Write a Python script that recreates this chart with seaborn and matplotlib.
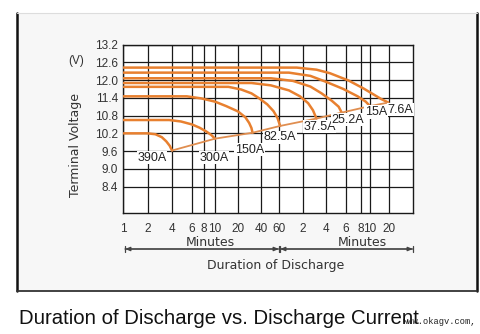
import numpy as np
import pandas as pd
import matplotlib
matplotlib.use("Agg")
import matplotlib.pyplot as plt
from matplotlib.patches import Rectangle, FancyArrowPatch
from matplotlib.lines import Line2D
from matplotlib.ticker import FixedLocator, FixedFormatter, NullLocator
import seaborn as sns

# ---------------- data ----------------
currents = ["390A", "300A", "150A", "82.5A", "37.5A", "25.2A", "15A", "7.6A"]

c390_min = [1, 2, 2.5, 3.0, 3.4, 3.75, 4]
c390_v = [10.2, 10.2, 10.17, 10.07, 9.93, 9.78, 9.62]
c300_min = [1, 3.7, 4.8, 6, 7.2, 8.4, 9.3, 10]
c300_v = [10.65, 10.65, 10.6, 10.5, 10.39, 10.26, 10.14, 10.02]
c150_min = [1, 5.4, 7.5, 10, 14, 20, 25, 28, 30, 31]
c150_v = [11.45, 11.45, 11.38, 11.27, 11.12, 10.94, 10.74, 10.55, 10.38, 10.22]
c82_min = [1, 15, 22, 30, 38, 46, 53, 58, 62]
c82_v = [11.77, 11.77, 11.68, 11.55, 11.38, 11.18, 10.95, 10.72, 10.45]
c37_min = [1, 30, 50, 80, 110, 140, 162, 180]
c37_v = [11.9, 11.9, 11.82, 11.65, 11.45, 11.22, 10.98, 10.7]
c25_min = [1, 50, 90, 150, 210, 270, 310, 330]
c25_v = [12.06, 12.06, 11.97, 11.78, 11.55, 11.3, 11.1, 10.9]
c15_min = [1, 80, 150, 240, 340, 450, 540, 600]
c15_v = [12.25, 12.25, 12.14, 11.94, 11.7, 11.45, 11.27, 11.12]
c7_min = [1, 100, 180, 260, 380, 508, 700, 900, 1170]
c7_v = [12.42, 12.42, 12.35, 12.23, 11.98, 11.72, 11.5, 11.36, 11.24]

curve_minutes = [c390_min, c300_min, c150_min, c82_min, c37_min, c25_min, c15_min, c7_min]
curve_volts = [c390_v, c300_v, c150_v, c82_v, c37_v, c25_v, c15_v, c7_v]

x_tick_minutes = [1, 2, 4, 6, 8, 10, 20, 40, 60, 120, 240, 360, 480, 600, 1200]
x_tick_labels = ["1", "2", "4", "6", "8", "10", "20", "40", "60", "2", "4", "6", "8", "10", "20"]
y_ticks = [8.4, 9.0, 9.6, 10.2, 10.8, 11.4, 12.0, 12.6, 13.2]
y_tick_labels = ["8.4", "9.0", "9.6", "10.2", "10.8", "11.4", "12.0", "12.6", "13.2"]

# ---------------- layout / style ----------------
W, H = 480, 334
# drawing spacing of the hand-made log-like time axis (relative units)
AXIS_SPACING = [0, 24, 48.5, 68.5, 80.5, 91.5, 114.5, 137.5, 155.5, 179.5,
                202.5, 222.5, 237.5, 246.5, 265.5]
X_MAX = 2400
AXIS_END = 289.5
LABEL_OFFSETS = [(-20, -7), (-1, -19), (-3, -17), (0, -11.5), (3, -8),
                 (6, -7), (6, -6), (12, -7)]
ORANGE = "#E8802F"

_logs = np.array([-6.0] + list(np.log10(x_tick_minutes)) + [np.log10(X_MAX), 9.0])
_pos = np.array([-6.0 * 91.5] + AXIS_SPACING
                + [AXIS_END, AXIS_END + (9.0 - np.log10(X_MAX)) * 85])


def fwd(x):
    x = np.asarray(x, dtype=float)
    return np.interp(np.log10(np.clip(x, 1e-6, None)), _logs, _pos)


def inv(p):
    p = np.asarray(p, dtype=float)
    return 10 ** np.interp(p, _pos, _logs)


sns.set_style("white")
plt.rcParams["font.family"] = ["Liberation Sans", "DejaVu Sans"]

fig = plt.figure(figsize=(W / 100, H / 100), dpi=100)
fig.patch.set_facecolor("white")


def fx(px):
    return px / W


def fy(py):
    return 1 - py / H


# outer frame (behind everything)
fig.patches.append(Rectangle((fx(17), fy(291)), fx(477) - fx(17), fy(13) - fy(291),
                             transform=fig.transFigure, facecolor="#F7F7F7",
                             edgecolor="none", zorder=-5))
for xs, ys, c, w in [([17, 17], [13, 291], "#111111", 1.8),
                     ([477, 477], [13, 291], "#111111", 1.8),
                     ([17, 477], [291, 291], "#333333", 1.3),
                     ([17, 477], [13, 13], "#DDDDDD", 0.8)]:
    fig.lines.append(Line2D([fx(v) for v in xs], [fy(v) for v in ys],
                            transform=fig.transFigure, color=c, lw=w, zorder=-4))

ax = fig.add_axes([fx(123.5), fy(213), fx(413) - fx(123.5), fy(44.5) - fy(213)])
ax.set_zorder(2)
ax.set_facecolor("white")
ax.set_xscale("function", functions=(fwd, inv))

rows = []
for name, mins, vs in zip(currents, curve_minutes, curve_volts):
    for m, v in zip(mins, vs):
        rows.append({"current": name, "minutes": m, "volts": v})
df = pd.DataFrame(rows)

for name in currents:
    sub = df[df["current"] == name]
    sns.lineplot(data=sub, x="minutes", y="volts", ax=ax, color=ORANGE, lw=1.8,
                 estimator=None, sort=False, legend=False, zorder=3)

# end-of-discharge line through the curve end points
ends = df.groupby("current", sort=False).last().reset_index()
sns.lineplot(data=ends, x="minutes", y="volts", ax=ax, color="#E08E50", lw=1.3,
             estimator=None, sort=False, legend=False, zorder=3)

for (name, row), off in zip(ends.set_index("current").iterrows(), LABEL_OFFSETS):
    ax.annotate(name, (row["minutes"], row["volts"]), xytext=off,
                textcoords="offset pixels", ha="center", va="center",
                fontsize=9, color="#222222", zorder=5,
                bbox=dict(boxstyle="square,pad=0.05", fc="white", ec="none"))

ax.set_xlim(1, X_MAX)
ax.set_ylim(7.51, 13.2)
ax.xaxis.set_major_locator(FixedLocator(x_tick_minutes))
ax.xaxis.set_major_formatter(FixedFormatter(x_tick_labels))
ax.xaxis.set_minor_locator(NullLocator())
ax.set_yticks(y_ticks)
ax.set_yticklabels(y_tick_labels)
ax.grid(True, color="#1A1A1A", lw=0.9, zorder=1)
ax.set_axisbelow(True)
ax.tick_params(axis="both", length=0, labelsize=8.5, labelcolor="#333333")
ax.tick_params(axis="y", pad=4)
ax.tick_params(axis="x", pad=7)
for s in ax.spines.values():
    s.set_visible(True)
    s.set_color("#1A1A1A")
    s.set_linewidth(1.0)
ax.set_xlabel("")
ax.set_ylabel("")

# axis texts
fig.text(fx(76), fy(61), "(V)", ha="center", va="center", fontsize=8.5, color="#333333")
fig.text(fx(75), fy(145), "Terminal Voltage", ha="center", va="center", rotation=90,
         fontsize=9, color="#333333", family=["DejaVu Sans"])
fig.text(fx(210), fy(242), "Minutes", ha="center", va="center", fontsize=9,
         color="#333333", family=["DejaVu Sans"])
fig.text(fx(362), fy(242), "Minutes", ha="center", va="center", fontsize=9,
         color="#333333", family=["DejaVu Sans"])
fig.text(fx(276), fy(265), "Duration of Discharge", ha="center", va="center",
         fontsize=9, color="#333333", family=["DejaVu Sans"])

for x0, x1 in [(125, 279), (280, 413)]:
    fig.patches.append(FancyArrowPatch(
        (fx(x0), fy(249)), (fx(x1), fy(249)), transform=fig.transFigure,
        arrowstyle="|-|,widthA=2.5,widthB=2.5", color="#444444", lw=0.9,
        shrinkA=0, shrinkB=0))
    fig.patches.append(FancyArrowPatch(
        (fx(x0), fy(249)), (fx(x1), fy(249)), transform=fig.transFigure,
        arrowstyle="<|-|>,head_length=3,head_width=1.2", color="#444444", lw=0.9,
        shrinkA=0, shrinkB=0))

fig.text(fx(19), fy(318), "Duration of Discharge vs. Discharge Current", ha="left",
         va="center", fontsize=14.7, color="#111111")
fig.text(fx(403), fy(321), "www.okagv.com,", ha="left", va="center", fontsize=6.3,
         color="#222222", family=["Liberation Mono", "DejaVu Sans Mono"])

fig.savefig("out.png", dpi=100)
